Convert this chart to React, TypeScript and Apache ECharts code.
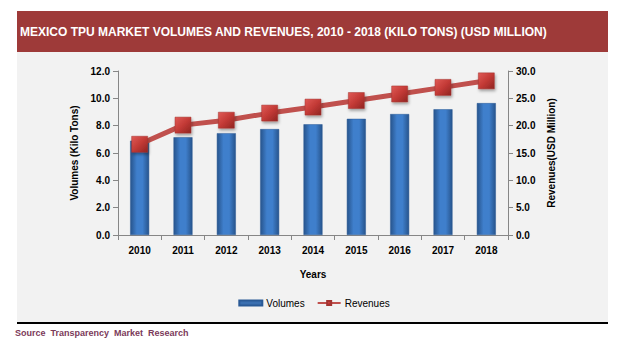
import React, { useEffect, useRef } from "react";
import * as echarts from "echarts";

const years = ["2010", "2011", "2012", "2013", "2014", "2015", "2016", "2017", "2018"];
const volumes = [6.9, 7.15, 7.45, 7.75, 8.1, 8.5, 8.85, 9.2, 9.65];
const revenues = [16.6, 20.1, 21.0, 22.3, 23.4, 24.6, 25.8, 27.0, 28.2];
const leftTicks = { min: 0, max: 12, interval: 2 };
const rightTicks = { min: 0, max: 30, interval: 5 };

const FONT = "'Liberation Sans', Arial, sans-serif";

export default function App() {
  const ref = useRef<HTMLDivElement>(null);
  useEffect(() => {
    const chart = echarts.init(ref.current!, null, { renderer: "svg" });
    const barColor = new echarts.graphic.LinearGradient(0, 0, 1, 0, [
      { offset: 0, color: "#27548c" },
      { offset: 0.35, color: "#3f7fcc" },
      { offset: 0.65, color: "#3f7fcc" },
      { offset: 1, color: "#27548c" },
    ]);
    const markerColor = new echarts.graphic.LinearGradient(0, 0, 1, 1, [
      { offset: 0, color: "#e05a56" },
      { offset: 0.5, color: "#c33a36" },
      { offset: 1, color: "#8f2421" },
    ]);
    chart.setOption({
      animation: false,
      backgroundColor: "#ffffff",
      textStyle: { fontFamily: FONT },
      graphic: [
        { type: "rect", shape: { x: 17, y: 11, width: 591, height: 41 }, style: { fill: "#9e3a39" }, z: -10 },
        { type: "rect", shape: { x: 17, y: 52, width: 591, height: 270 }, style: { fill: "#f2f2f2" }, z: -10 },
        { type: "rect", shape: { x: 17, y: 322, width: 591, height: 2 }, style: { fill: "#000000" }, z: -10 },
        {
          type: "text", x: 20, y: 32,
          style: {
            text: "MEXICO TPU MARKET VOLUMES AND REVENUES, 2010 - 2018 (KILO TONS) (USD MILLION)",
            fill: "#ffffff", font: "bold 12px " + FONT, verticalAlign: "middle", letterSpacing: -0.3,
          },
        },
        {
          type: "text", x: 15, y: 333,
          style: { text: "Source  Transparency  Market  Research", fill: "#7b3a5a", font: "bold 9px " + FONT, verticalAlign: "middle" },
        },
      ],
      legend: {
        top: 293,
        left: "center",
        itemGap: 12,
        itemWidth: 23,
        itemHeight: 5,
        textStyle: { fontFamily: FONT, fontSize: 10, color: "#000", padding: [0, 0, 0, -1] },
        data: [
          { name: "Volumes", icon: "rect", itemStyle: { color: "#3a6fb0" } },
          { name: "Revenues" },
        ],
      },
      grid: { left: 118, right: 120, top: 71, bottom: 119 },
      xAxis: {
        type: "category",
        data: years,
        axisLine: { lineStyle: { color: "#868686" } },
        axisTick: { show: true, lineStyle: { color: "#868686" }, length: 5 },
        axisLabel: { color: "#000", fontSize: 10, fontWeight: "bold", margin: 10, fontFamily: FONT },
        name: "Years",
        nameLocation: "middle",
        nameGap: 34,
        nameTextStyle: { color: "#000", fontSize: 10, fontWeight: "bold", fontFamily: FONT },
      },
      yAxis: [
        {
          type: "value", ...leftTicks,
          splitLine: { show: false },
          axisLine: { show: true, lineStyle: { color: "#868686" } },
          axisTick: { show: true, lineStyle: { color: "#868686" }, length: 5 },
          axisLabel: { color: "#000", fontSize: 10, fontWeight: "bold", formatter: (v: number) => v.toFixed(1), fontFamily: FONT },
          name: "Volumes (Kilo Tons)",
          nameLocation: "middle",
          nameGap: 37,
          nameTextStyle: { color: "#000", fontSize: 10, fontWeight: "bold", fontFamily: FONT },
        },
        {
          type: "value", ...rightTicks,
          position: "right",
          splitLine: { show: false },
          axisLine: { show: true, lineStyle: { color: "#868686" } },
          axisTick: { show: true, lineStyle: { color: "#868686" }, length: 5 },
          axisLabel: { color: "#000", fontSize: 10, fontWeight: "bold", formatter: (v: number) => v.toFixed(1), fontFamily: FONT },
          name: "Revenues(USD Million)",
          nameLocation: "middle",
          nameGap: 38,
          nameRotate: 90,
          nameTextStyle: { color: "#000", fontSize: 10, fontWeight: "bold", fontFamily: FONT },
        },
      ],
      series: [
        {
          name: "Volumes",
          type: "bar",
          data: volumes,
          barWidth: 19,
          itemStyle: { color: barColor, borderColor: "#2a5a96", borderWidth: 0.5 },
        },
        {
          name: "Revenues",
          type: "line",
          yAxisIndex: 1,
          data: revenues,
          symbol: "rect",
          symbolSize: 16,
          lineStyle: { color: "#c0504d", width: 5 },
          itemStyle: {
            color: markerColor,
            borderColor: "#a33431",
            borderWidth: 0.5,
            shadowColor: "rgba(0,0,0,0.35)",
            shadowBlur: 3,
            shadowOffsetX: 1,
            shadowOffsetY: 2,
          },
        },
      ],
    });
    return () => chart.dispose();
  }, []);
  return <div ref={ref} style={{ width: 628, height: 354, position: "absolute", left: 0, top: 0 }} />;
}
